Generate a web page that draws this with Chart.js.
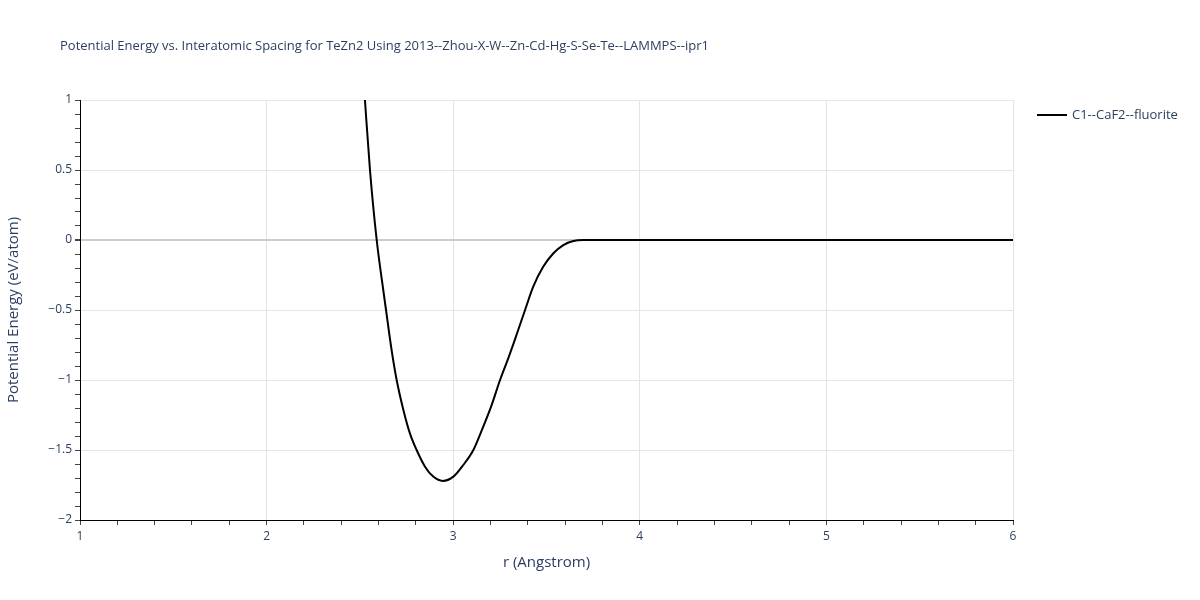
<!DOCTYPE html>
<html lang="en">
<head>
    <meta charset="UTF-8">
    <title>Potential Energy vs. Interatomic Spacing</title>
    <script src="https://cdn.jsdelivr.net/npm/chart.js"></script>
    <style>
        html, body { margin: 0; padding: 0; background: #fff; }
        #wrap { width: 1200px; height: 600px; }
    </style>
</head>
<body>
    <div id="wrap"><canvas id="energyChart" width="1200" height="600"></canvas></div>

    <script>
        // values
        const seriesName = 'C1--CaF2--fluorite';
        const spacing = [2.50, 2.527, 2.554, 2.590, 2.629, 2.640, 2.670, 2.697, 2.733, 2.768, 2.804,
                         2.849, 2.893, 2.944, 3.001, 3.054, 3.108, 3.161, 3.206, 3.251, 3.295,
                         3.326, 3.385, 3.429, 3.483, 3.537, 3.590, 3.644, 3.697, 3.75, 4.0,
                         4.5, 5.0, 5.5, 6.0];
        const energy = [1.52, 1.0, 0.5, 0.0, -0.393, -0.5, -0.786, -1.0, -1.214, -1.381, -1.5,
                        -1.619, -1.690, -1.721, -1.690, -1.607, -1.5, -1.333, -1.179, -1.0, -0.845,
                        -0.73, -0.5, -0.333, -0.19, -0.095, -0.036, -0.007, 0.0, 0.0, 0.0,
                        0.0, 0.0, 0.0, 0.0];
        const xTickLabels = [1, 2, 3, 4, 5, 6];
        const yTickLabels = [-2, -1.5, -1, -0.5, 0, 0.5, 1];

        const chartTitle = 'Potential Energy vs. Interatomic Spacing for TeZn2 Using 2013--Zhou-X-W--Zn-Cd-Hg-S-Se-Te--LAMMPS--ipr1';
        const xTitle = 'r (Angstrom)';
        const yTitle = 'Potential Energy (eV/atom)';

        const textColor = '#2a3f5f';
        const fontFamily = '"Open Sans", verdana, arial, sans-serif';

        const isMajor = (v, list) => list.some(t => Math.abs(t - v) < 1e-6);
        const fmt = v => (v < 0 ? '\u2212' + Math.abs(v) : String(v));

        // title, axis titles and legend placed like the plotly original
        const decorations = {
            id: 'decorations',
            afterDraw(chart) {
                const ctx = chart.ctx;
                const area = chart.chartArea;
                ctx.save();
                ctx.fillStyle = textColor;
                ctx.textBaseline = 'middle';

                ctx.font = '13px ' + fontFamily;
                ctx.textAlign = 'left';
                ctx.fillText(chartTitle, 60, 46);

                ctx.font = '15px ' + fontFamily;
                ctx.textAlign = 'center';
                ctx.fillText(xTitle, (area.left + area.right) / 2, 563);

                ctx.save();
                ctx.translate(14, (area.top + area.bottom) / 2);
                ctx.rotate(-Math.PI / 2);
                ctx.fillText(yTitle, 0, 0);
                ctx.restore();

                // legend
                ctx.strokeStyle = '#000';
                ctx.lineWidth = 2;
                ctx.beginPath();
                ctx.moveTo(1037, 115);
                ctx.lineTo(1067, 115);
                ctx.stroke();
                ctx.font = '13px ' + fontFamily;
                ctx.textAlign = 'left';
                ctx.fillText(seriesName, 1072, 115);
                ctx.restore();
            }
        };

        const ctx = document.getElementById('energyChart').getContext('2d');
        window.energyChart = new Chart(ctx, {
            type: 'line',
            data: {
                datasets: [{
                    label: seriesName,
                    data: spacing.map((r, i) => ({ x: r, y: energy[i] })),
                    borderColor: '#000',
                    borderWidth: 2,
                    pointRadius: 0,
                    fill: false,
                    cubicInterpolationMode: 'monotone'
                }]
            },
            options: {
                responsive: false,
                animation: false,
                layout: { padding: { left: 0, right: 187, top: 100, bottom: 0 } },
                plugins: {
                    legend: { display: false },
                    title: { display: false },
                    tooltip: { enabled: false }
                },
                scales: {
                    x: {
                        type: 'linear',
                        position: 'bottom',
                        min: 1,
                        max: 6,
                        afterFit: s => { s.height = 80; },
                        afterBuildTicks: s => {
                            s.ticks = [];
                            for (let i = 0; i <= 25; i++) s.ticks.push({ value: Math.round((1 + i * 0.2) * 10) / 10 });
                        },
                        border: { color: '#000', width: 1 },
                        grid: {
                            color: c => (c.tick && isMajor(c.tick.value, xTickLabels) && c.tick.value !== 1 ? '#e5e5e5' : 'rgba(0,0,0,0)'),
                            lineWidth: 1,
                            tickColor: '#444',
                            tickLength: 5,
                            drawTicks: true
                        },
                        ticks: {
                            autoSkip: false,
                            maxRotation: 0,
                            color: textColor,
                            font: { family: fontFamily, size: 12 },
                            padding: 4,
                            callback: v => (isMajor(v, xTickLabels) ? fmt(Math.round(v)) : '')
                        }
                    },
                    y: {
                        type: 'linear',
                        min: -2,
                        max: 1,
                        afterFit: s => { s.width = 80; },
                        afterBuildTicks: s => {
                            s.ticks = [];
                            for (let i = 0; i <= 30; i++) s.ticks.push({ value: Math.round((-2 + i * 0.1) * 10) / 10 });
                        },
                        border: { color: '#000', width: 1 },
                        grid: {
                            color: c => {
                                if (!c.tick) return 'rgba(0,0,0,0)';
                                const v = c.tick.value;
                                if (Math.abs(v) < 1e-6) return '#cccccc';
                                if (v === -2) return 'rgba(0,0,0,0)';
                                return isMajor(v, yTickLabels) ? '#e5e5e5' : 'rgba(0,0,0,0)';
                            },
                            lineWidth: c => (c.tick && Math.abs(c.tick.value) < 1e-6 ? 2 : 1),
                            tickColor: '#444',
                            tickLength: 5
                        },
                        ticks: {
                            autoSkip: false,
                            color: textColor,
                            font: { family: fontFamily, size: 12 },
                            padding: 3,
                            callback: v => (isMajor(v, yTickLabels) ? fmt(v) : '')
                        }
                    }
                }
            },
            plugins: [decorations]
        });
    </script>
</body>
</html>
